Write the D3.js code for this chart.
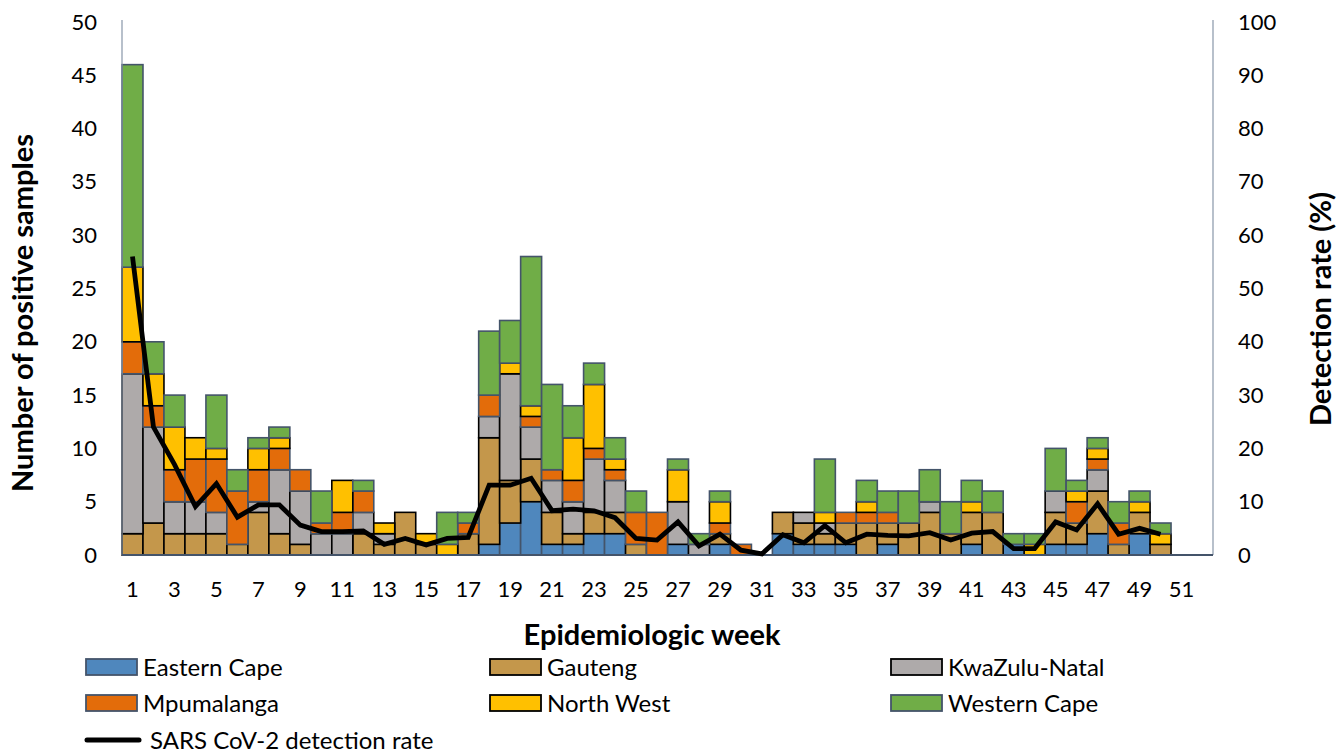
<!DOCTYPE html>
<html>
<head>
<meta charset="utf-8">
<script src="https://cdn.jsdelivr.net/npm/d3@7"></script>
<style>
  html, body { margin: 0; padding: 0; background: #fff; }
  svg { display: block; font-family: Lato, "Open Sans", sans-serif; }
</style>
</head>
<body>
<svg id="chart" width="1344" height="754"></svg>
<script>
// Epidemiologic weeks 1–52
const weeks = d3.range(1, 53);

// Positive samples per province, weeks 1–52
const easternCape = [0,0,0,0,0,0,0,0,0,0, 0,0,0,0,0,0,0,1,3,5, 1,1,2,2,0,0,1,0,1,0, 0,2,1,1,1,0,1,0,0,0, 1,0,1,0,1,1,2,0,2,0, 0,0];
const gauteng     = [2,3,2,2,2,1,4,2,1,0, 0,2,1,4,1,0,2,10,4,4, 3,1,2,2,1,0,0,0,1,0, 0,2,2,1,2,3,2,3,4,2, 3,4,0,0,3,2,4,1,2,1, 0,0];
const kwazulu     = [15,9,3,3,2,0,1,6,5,2, 2,2,1,0,0,0,0,2,10,3, 3,3,5,3,0,0,4,1,0,0, 0,0,1,1,0,0,0,0,1,0, 0,0,0,0,2,0,2,0,0,0, 0,0];
const mpumalanga  = [3,2,3,4,5,5,3,2,2,1, 2,2,0,0,0,0,1,2,0,1, 1,2,1,1,3,4,0,0,1,1, 0,0,0,0,1,1,1,0,0,0, 0,0,0,0,0,2,1,2,0,0, 0,0];
const northWest   = [7,3,4,2,1,0,2,1,0,0, 3,0,1,0,1,1,0,0,1,1, 0,4,6,1,0,0,3,0,2,0, 0,0,0,1,0,1,0,0,0,0, 1,0,0,1,0,1,1,0,1,1, 0,0];
const westernCape = [19,3,3,0,5,2,1,1,0,3, 0,1,0,0,0,3,1,6,4,14, 8,3,2,2,2,0,1,1,1,0, 0,0,0,5,0,2,2,3,3,3, 2,2,1,1,4,1,1,2,1,1, 0,0];

// SARS CoV-2 detection rate (%), weeks 1–50
const detectionRate = [56,24,17,9.1,13.4,7.1,9.4,9.4,5.6,4.4, 4.4,4.5,2,3.1,1.9,3.1,3.3,13.1,13.1,14.4, 8.3,8.6,8.3,7,3.1,2.8,6.2,1.7,3.9,0.9, 0.2,3.8,2.3,5.5,2.3,3.9,3.7,3.6,4.2,2.8, 4.1,4.4,1.2,1.2,6.2,4.7,9.6,3.9,5,3.9];

const provinces = ["Eastern Cape","Gauteng","KwaZulu-Natal","Mpumalanga","North West","Western Cape"];
const provinceSeries = [easternCape, gauteng, kwazulu, mpumalanga, northWest, westernCape];
const fills   = ["#4f87bd","#c4974b","#aeaaaa","#e36c0a","#ffc000","#70ad47"];
const strokes = ["#44546a","#000000","#000000","#44546a","#000000","#44546a"];

const leftTicks = d3.range(0, 51, 5);
const rightTicks = d3.range(0, 101, 10);
const weekTicks = weeks.filter(w => w % 2 === 1);

const svg = d3.select("#chart");
const plot = { left: 122, right: 1213, top: 22, bottom: 555 };

const x = d3.scaleBand().domain(weeks).range([plot.left, plot.right]).paddingInner(0).paddingOuter(0);
const yL = d3.scaleLinear().domain([0, 50]).range([plot.bottom, plot.top]);
const yR = d3.scaleLinear().domain([0, 100]).range([plot.bottom, plot.top]);

// stacked table
const table = weeks.map((w, i) => {
  const row = { week: w };
  provinces.forEach((p, k) => row[p] = provinceSeries[k][i]);
  return row;
});
const stacked = d3.stack().keys(provinces)(table);

stacked.forEach((layer, k) => {
  svg.append("g")
    .selectAll("rect")
    .data(layer.filter(d => d[1] - d[0] > 0))
    .join("rect")
    .attr("x", d => x(d.data.week))
    .attr("width", x.bandwidth())
    .attr("y", d => yL(d[1]))
    .attr("height", d => yL(d[0]) - yL(d[1]))
    .attr("fill", fills[k])
    .attr("stroke", strokes[k])
    .attr("stroke-width", 1.6);
});

// axes lines
const axisColor = "#44546a";
svg.append("line").attr("x1", plot.left).attr("x2", plot.left).attr("y1", plot.top - 2).attr("y2", plot.bottom)
  .attr("stroke", "#8896a8").attr("stroke-width", 1.2);
svg.append("line").attr("x1", plot.right).attr("x2", plot.right).attr("y1", plot.top - 2).attr("y2", plot.bottom)
  .attr("stroke", "#8896a8").attr("stroke-width", 1.2);
svg.append("line").attr("x1", plot.left).attr("x2", plot.right).attr("y1", plot.bottom).attr("y2", plot.bottom)
  .attr("stroke", axisColor).attr("stroke-width", 2);

// detection rate line
const line = d3.line()
  .x((d, i) => x(weeks[i]) + x.bandwidth() / 2)
  .y(d => yR(d));
svg.append("path")
  .datum(detectionRate)
  .attr("d", line)
  .attr("fill", "none")
  .attr("stroke", "#000")
  .attr("stroke-width", 4.8)
  .attr("stroke-linejoin", "miter");

// left axis
const leftAxis = svg.append("g").attr("transform", `translate(${plot.left},0)`)
  .call(d3.axisLeft(yL).tickValues(leftTicks).tickSize(0).tickPadding(25));
leftAxis.select(".domain").remove();
leftAxis.selectAll("text").attr("font-size", 22).attr("fill", "#000").attr("font-family", "Lato, sans-serif");

// right axis
const rightAxis = svg.append("g").attr("transform", `translate(${plot.right},0)`)
  .call(d3.axisRight(yR).tickValues(rightTicks).tickSize(0).tickPadding(25));
rightAxis.select(".domain").remove();
rightAxis.selectAll("text").attr("font-size", 22).attr("fill", "#000").attr("font-family", "Lato, sans-serif");

// bottom axis
const bottomAxis = svg.append("g").attr("transform", `translate(0,${plot.bottom})`)
  .call(d3.axisBottom(x).tickValues(weekTicks).tickSize(0).tickPadding(26));
bottomAxis.select(".domain").remove();
bottomAxis.selectAll("text").attr("font-size", 22).attr("fill", "#000").attr("font-family", "Lato, sans-serif");

// axis titles
svg.append("text")
  .attr("transform", "translate(33,313) rotate(-90)")
  .attr("text-anchor", "middle")
  .attr("font-size", 29).attr("font-weight", "bold")
  .text("Number of positive samples");
svg.append("text")
  .attr("transform", "translate(1331,309) rotate(-90)")
  .attr("text-anchor", "middle")
  .attr("font-size", 29).attr("font-weight", "bold")
  .text("Detection rate (%)");
svg.append("text")
  .attr("x", 652).attr("y", 645)
  .attr("text-anchor", "middle")
  .attr("font-size", 29).attr("font-weight", "bold")
  .text("Epidemiologic week");

// legend
const legendCols = [86, 490, 891];
const legendRows = [667, 703];
provinces.forEach((p, k) => {
  const gx = legendCols[k % 3], gy = legendRows[Math.floor(k / 3)];
  const g = svg.append("g").attr("transform", `translate(${gx},${gy})`);
  g.append("rect").attr("x", 0).attr("y", -8).attr("width", 51).attr("height", 16)
    .attr("fill", fills[k]).attr("stroke", strokes[k]).attr("stroke-width", 1.8);
  g.append("text").attr("x", 57).attr("y", 8.5).attr("font-size", 24).text(p);
});
const lg = svg.append("g").attr("transform", "translate(86,740)");
lg.append("line").attr("x1", 1).attr("x2", 53).attr("y1", 0).attr("y2", 0)
  .attr("stroke", "#000").attr("stroke-width", 5).attr("stroke-linecap", "round");
lg.append("text").attr("x", 64).attr("y", 8.5).attr("font-size", 24).text("SARS CoV-2 detection rate");
</script>
</body>
</html>
